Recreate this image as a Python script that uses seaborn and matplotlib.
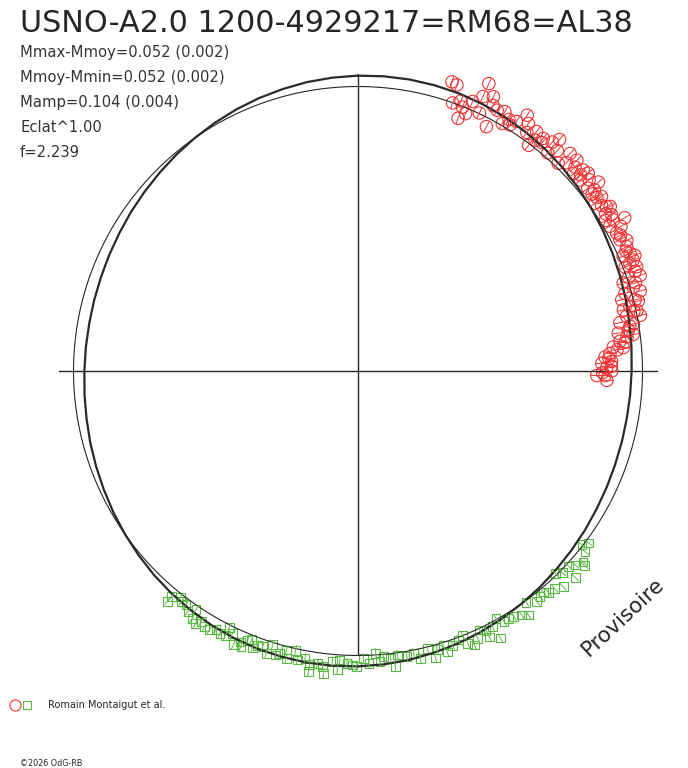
import numpy as np
import pandas as pd
import matplotlib
matplotlib.use("Agg")
import matplotlib.pyplot as plt
import seaborn as sns
from matplotlib.collections import LineCollection
from matplotlib.lines import Line2D
from matplotlib.legend_handler import HandlerTuple

# Chart data: phase (0 at top, clockwise) and magnitude offset from mean
title = "USNO-A2.0 1200-4929217=RM68=AL38"
info_lines = ["Mmax-Mmoy=0.052 (0.002)", "Mmoy-Mmin=0.052 (0.002)",
              "Mamp=0.104 (0.004)", "Eclat^1.00", "f=2.239"]
observer = "Romain Montaigut et al."

# fitted curve, read every 5 degrees
model_phase = [k / 72 for k in range(72)]
model_dmag = [0.049, 0.051, 0.052, 0.051, 0.049, 0.045, 0.040, 0.033, 0.026, 0.018,
              0.009, 0.000, -0.009, -0.018, -0.026, -0.033, -0.040, -0.045, -0.049, -0.051,
              -0.052, -0.051, -0.049, -0.045, -0.040, -0.033, -0.026, -0.018, -0.009, 0.000,
              0.009, 0.018, 0.026, 0.033, 0.040, 0.045,
              0.049, 0.051, 0.052, 0.051, 0.049, 0.045, 0.040, 0.033, 0.026, 0.018,
              0.009, 0.000, -0.009, -0.018, -0.026, -0.033, -0.040, -0.045, -0.049, -0.051,
              -0.052, -0.051, -0.049, -0.045, -0.040, -0.033, -0.026, -0.018, -0.009, 0.000,
              0.009, 0.018, 0.026, 0.033, 0.040, 0.045]

# red circles (first data set)
red_phase = [0.050, 0.053, 0.068, 0.054, 0.060, 0.060, 0.063, 0.064, 0.068, 0.073,
             0.070, 0.077, 0.078, 0.082, 0.084, 0.088, 0.090, 0.093, 0.096, 0.102,
             0.103, 0.104, 0.107, 0.112, 0.114, 0.114, 0.117, 0.123, 0.125, 0.128,
             0.122, 0.132, 0.134, 0.137, 0.137, 0.144, 0.143, 0.147, 0.151, 0.152,
             0.157, 0.162, 0.167, 0.163, 0.167, 0.172, 0.176, 0.181, 0.185, 0.185,
             0.189, 0.191, 0.193, 0.197, 0.199, 0.203, 0.205, 0.208, 0.210, 0.213,
             0.214, 0.216, 0.218, 0.221, 0.223, 0.226, 0.227, 0.229, 0.232, 0.235,
             0.236, 0.239, 0.241, 0.244, 0.245, 0.248, 0.253, 0.253, 0.250, 0.256,
             0.130, 0.135, 0.140, 0.146, 0.150, 0.155, 0.158, 0.160, 0.165, 0.170,
             0.174, 0.178, 0.183, 0.187, 0.190, 0.195, 0.198, 0.201, 0.206, 0.211,
             0.216, 0.219, 0.224, 0.230, 0.233, 0.237, 0.242, 0.247, 0.251, 0.108,
             0.098, 0.086, 0.075, 0.058]
red_dmag = [0.088, 0.082, 0.141, -0.001, -0.003, -0.057, -0.025, 0.038, 0.077, 0.096,
            0.003, -0.038, 0.050, 0.061, 0.009, 0.021, 0.050, 0.100, 0.072, 0.064,
            -0.007, 0.029, 0.058, 0.071, 0.101, 0.021, 0.057, 0.087, 0.045, 0.087,
            0.018, 0.035, 0.078, 0.086, 0.038, 0.096, 0.041, 0.041, 0.068, 0.026,
            0.061, 0.060, 0.104, 0.023, 0.027, 0.039, 0.038, 0.052, 0.054, 0.020,
            0.055, 0.010, 0.059, 0.008, -0.023, 0.015, -0.029, -0.051, 0.007, -0.023,
            -0.055, 0.004, -0.047, -0.082, -0.023, -0.050, -0.097, -0.031, -0.094, -0.126,
            -0.082, -0.144, -0.167, -0.138, -0.183, -0.161, -0.206, -0.169, -0.139, -0.160,
            0.060, 0.055, 0.070, 0.060, 0.048, 0.045, 0.075, 0.040, 0.055, 0.070,
            0.050, 0.065, 0.040, 0.070, 0.035, 0.045, 0.060, 0.030, 0.040, 0.020,
            -0.010, 0.015, -0.040, -0.060, -0.070, -0.110, -0.150, -0.140, -0.180, 0.040,
            0.035, 0.040, 0.060, 0.020]

# green squares (second data set)
green_phase = [0.610, 0.610, 0.606, 0.604, 0.601, 0.598, 0.595, 0.594, 0.591, 0.589,
               0.586, 0.583, 0.580, 0.577, 0.574, 0.571, 0.574, 0.568, 0.565, 0.564,
               0.562, 0.560, 0.556, 0.558, 0.553, 0.550, 0.548, 0.545, 0.543, 0.540,
               0.539, 0.535, 0.533, 0.529, 0.526, 0.526, 0.522, 0.519, 0.518, 0.514,
               0.511, 0.510, 0.506, 0.503, 0.501, 0.497, 0.494, 0.490, 0.488, 0.486,
               0.482, 0.480, 0.478, 0.473, 0.469, 0.466, 0.461, 0.458, 0.456, 0.452,
               0.451, 0.447, 0.443, 0.440, 0.439, 0.436, 0.433, 0.430, 0.427, 0.427,
               0.423, 0.419, 0.422, 0.416, 0.413, 0.410, 0.406, 0.400, 0.403, 0.395,
               0.392, 0.389, 0.387, 0.383, 0.379, 0.377, 0.374, 0.369, 0.366, 0.371,
               0.362, 0.357, 0.355, 0.352, 0.363]
green_dmag = [0.064, 0.037, 0.013, 0.026, 0.025, 0.045, 0.017, 0.061, 0.072, 0.049,
              0.061, 0.062, 0.047, 0.054, 0.013, 0.030, 0.050, 0.074, 0.049, 0.066,
              0.030, 0.021, 0.034, 0.054, 0.032, 0.055, 0.010, 0.051, 0.038, 0.016,
              0.052, 0.007, 0.049, 0.034, 0.060, 0.091, 0.048, 0.060, 0.089, 0.033,
              0.069, 0.023, 0.036, 0.043, 0.050, 0.013, 0.036, -0.008, 0.032, 0.010,
              0.021, 0.061, 0.010, 0.024, 0.014, 0.042, 0.007, 0.058, 0.024, 0.011,
              0.047, 0.025, 0.012, -0.001, 0.042, 0.060, 0.039, 0.008, 0.021, 0.055,
              0.018, -0.005, 0.082, 0.024, 0.022, 0.028, 0.042, 0.006, 0.059, 0.033,
              0.024, 0.017, 0.036, 0.040, 0.060, -0.009, 0.012, 0.013, 0.030, 0.070,
              0.048, 0.025, -0.005, 0.014, 0.064]

red_err = 0.028
green_err = 0.022
mag_scale = 0.78   # radius units per magnitude, circle radius = 1

red_col = "#ee3333"
green_col = "#5cb845"
ink = "#262626"


def to_xy(phase, dmag):
    theta = np.deg2rad(90 - 360 * np.asarray(phase))
    r = 1 + mag_scale * np.asarray(dmag)
    return r * np.cos(theta), r * np.sin(theta)


def radial_bars(phase, dmag, err):
    theta = np.deg2rad(90 - 360 * np.asarray(phase))
    r1 = 1 + mag_scale * (np.asarray(dmag) - err)
    r2 = 1 + mag_scale * (np.asarray(dmag) + err)
    return [[(a * np.cos(t), a * np.sin(t)), (b * np.cos(t), b * np.sin(t))]
            for t, a, b in zip(theta, r1, r2)]


sns.set_theme(style="white")
plt.rcParams["font.family"] = ["DejaVu Sans"]

W, H = 688, 768
cx, cy, R = 358, 371, 284.5
fig = plt.figure(figsize=(W / 100, H / 100), dpi=100)
ax = fig.add_axes([0, 0, 1, 1])
ax.set_xlim(-cx / R, (W - cx) / R)
ax.set_ylim(-(H - cy) / R, cy / R)
ax.axis("off")

# axes cross and reference circle
ax.plot([-1.05, 1.05], [0, 0], color=ink, lw=1.0)
ax.plot([0, 0], [-0.995, 1.04], color=ink, lw=1.0)
t = np.linspace(0, 2 * np.pi, 400)
ax.plot(np.cos(t), np.sin(t), color=ink, lw=0.8)

# fitted curve
mx, my = to_xy(model_phase + model_phase[:1], model_dmag + model_dmag[:1])
ax.plot(mx, my, color="#2a2a2a", lw=1.6, solid_joinstyle="round")

# data points with radial error bars
rx, ry = to_xy(red_phase, red_dmag)
gx, gy = to_xy(green_phase, green_dmag)
red_df = pd.DataFrame({"x": rx, "y": ry})
green_df = pd.DataFrame({"x": gx, "y": gy})

ax.add_collection(LineCollection(radial_bars(red_phase, red_dmag, red_err),
                                 colors=red_col, linewidths=0.7))
ax.add_collection(LineCollection(radial_bars(green_phase, green_dmag, green_err),
                                 colors=green_col, linewidths=0.7))
sns.scatterplot(data=red_df, x="x", y="y", marker="o", s=80, facecolor="none",
                edgecolor=red_col, linewidth=0.8, ax=ax, legend=False)
sns.scatterplot(data=green_df, x="x", y="y", marker="s", s=40, facecolor="none",
                edgecolor=green_col, linewidth=0.8, ax=ax, legend=False)

# texts
fig.text(20 / W, 1 - 32 / H, title, fontsize=21.8, color=ink, va="baseline")
for i, line in enumerate(info_lines):
    fig.text(20 / W, 1 - (56.7 + 25 * i) / H, line, fontsize=10.6,
             color="#333333", va="baseline")
fig.text(589 / W, 1 - 657 / H, "Provisoire", fontsize=15.5, color=ink,
         rotation=43, rotation_mode="anchor", ha="left", va="baseline")
fig.text(20 / W, 1 - 766 / H, "\u00a92026 OdG-RB", fontsize=5.8, color=ink,
         va="baseline")

# legend
h_red = Line2D([], [], ls="none", marker="o", markersize=8, markerfacecolor="none",
               markeredgecolor=red_col, markeredgewidth=0.8)
h_green = Line2D([], [], ls="none", marker="s", markersize=5.8, markerfacecolor="none",
                 markeredgecolor=green_col, markeredgewidth=0.8)
fig.legend(handles=[(h_red, h_green)], labels=[observer],
           handler_map={tuple: HandlerTuple(ndivide=None, pad=0.2)},
           loc="center left", bbox_to_anchor=(10 / W, 1 - 705 / H),
           frameon=False, fontsize=7, handlelength=2.3, handletextpad=1.6,
           borderpad=0, borderaxespad=0)

fig.savefig("out.png", dpi=100)
